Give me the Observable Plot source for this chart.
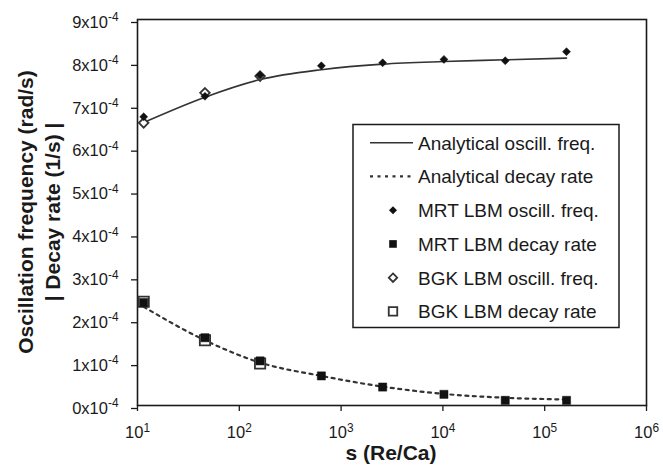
<!DOCTYPE html>
<html>
<head>
<meta charset="utf-8">
<script src="https://cdn.jsdelivr.net/npm/d3@7"></script>
<script src="https://cdn.jsdelivr.net/npm/@observablehq/plot@0.6"></script>
<style>
  html, body { margin: 0; padding: 0; background: #fff; }
  #chart { width: 663px; height: 467px; }
</style>
</head>
<body>
<div id="chart"></div>
<script>
// ---- data (values in units of 1e-4) ----
const sValues = [11.5, 46, 160, 640, 2560, 10240, 40960, 163840];
const analyticalFreq  = [6.60, 7.19, 7.60, 7.83, 7.96, 8.02, 8.06, 8.10];
const analyticalDecay = [2.30, 1.52, 1.00, 0.69, 0.44, 0.27, 0.18, 0.14];
const mrtFreq  = [6.73, 7.21, 7.70, 7.92, 7.99, 8.07, 8.04, 8.25];
const mrtDecay = [2.40, 1.58, 1.04, 0.69, 0.43, 0.26, 0.12, 0.12];
const bgkS     = [11.5, 46, 160];
const bgkFreq  = [6.59, 7.29, 7.68];
const bgkDecay = [2.42, 1.52, 0.98];

const xTicks = [1e1, 1e2, 1e3, 1e4, 1e5, 1e6];
const xTickExponents = ["1", "2", "3", "4", "5", "6"];
const yTicks = [0, 1, 2, 3, 4, 5, 6, 7, 8, 9];
const yTickLabels = ["0x10^-4", "1x10^-4", "2x10^-4", "3x10^-4", "4x10^-4", "5x10^-4", "6x10^-4", "7x10^-4", "8x10^-4", "9x10^-4"];

const legendLabels = [
  "Analytical oscill. freq.",
  "Analytical decay rate",
  "MRT LBM oscill. freq.",
  "MRT LBM decay rate",
  "BGK LBM oscill. freq.",
  "BGK LBM decay rate"
];
const xTitle = "s (Re/Ca)";
const yTitleLines = ["Oscillation frequency (rad/s)", "| Decay rate (1/s) |"];

// ---- tables ----
const analytic = sValues.map((s, i) => ({s, freq: analyticalFreq[i], decay: analyticalDecay[i]}));
const mrt = sValues.map((s, i) => ({s, freq: mrtFreq[i], decay: mrtDecay[i]}));
const bgk = bgkS.map((s, i) => ({s, freq: bgkFreq[i], decay: bgkDecay[i]}));

const FONT = "'Liberation Sans', Arial, Helvetica, sans-serif";
const INK = "#1a1a1a";
const LINE = "#333";

const chart = Plot.plot({
  width: 663,
  height: 467,
  marginLeft: 137,
  marginRight: 17,
  marginTop: 19,
  marginBottom: 62,
  style: {fontFamily: FONT, background: "#fff", color: INK, overflow: "visible"},
  x: {type: "log", domain: [10, 1e6]},
  y: {domain: [0, 9]},
  marks: [
    Plot.axisX({
      ticks: xTicks,
      tickFormat: (d) => "10^" + xTickExponents[xTicks.indexOf(d)],
      tickSize: 6, tickPadding: 15, fontSize: 16.5, label: null, stroke: INK, strokeWidth: 1.3
    }),
    Plot.axisY({
      ticks: yTicks,
      tickFormat: (d) => yTickLabels[yTicks.indexOf(d)],
      tickSize: 6, tickPadding: 13, fontSize: 16.5, label: null, dy: 3, stroke: INK, strokeWidth: 1.3
    }),
    Plot.frame({stroke: INK, strokeWidth: 1.6}),
    Plot.line(analytic, {x: "s", y: "freq", stroke: LINE, strokeWidth: 1.6, curve: "monotone-x"}),
    Plot.line(analytic, {x: "s", y: "decay", stroke: LINE, strokeWidth: 2.2, strokeDasharray: "3,4.5", curve: "monotone-x"}),
    Plot.dot(bgk, {x: "s", y: "freq", symbol: "diamond2", r: 4.3, fill: "#fff", stroke: LINE, strokeWidth: 1.8}),
    Plot.dot(bgk, {x: "s", y: "decay", symbol: "square", r: 5.8, fill: "#fff", stroke: LINE, strokeWidth: 1.8}),
    Plot.dot(mrt, {x: "s", y: "freq", symbol: "diamond2", r: 3.6, fill: "#111", stroke: "#111", strokeWidth: 0.5}),
    Plot.dot(mrt, {x: "s", y: "decay", symbol: "square", r: 4.6, fill: "#111", stroke: "#111", strokeWidth: 0.5})
  ]
});

document.getElementById("chart").appendChild(chart);
const svg = d3.select(chart);

// superscripts on tick labels
function supify(sel) {
  svg.selectAll(sel).each(function () {
    const t = this.textContent;
    const parts = t.split("^");
    if (parts.length < 2) return;
    this.textContent = "";
    const el = d3.select(this);
    el.append("tspan").text(parts[0]);
    el.append("tspan").attr("dy", "-0.55em").attr("font-size", "0.72em").text(parts[1]);
  });
}
supify('g[aria-label="x-axis tick label"] text');
supify('g[aria-label="y-axis tick label"] text');

// axis titles
svg.append("text")
  .attr("x", 391).attr("y", 460)
  .attr("text-anchor", "middle")
  .attr("font-family", FONT).attr("font-weight", "bold").attr("font-size", 21)
  .attr("fill", INK)
  .text(xTitle);

const yBase = [33, 60];
yTitleLines.forEach((line, i) => {
  svg.append("text")
    .attr("transform", `translate(${yBase[i]},212) rotate(-90)`)
    .attr("text-anchor", "middle")
    .attr("font-family", FONT).attr("font-weight", "bold").attr("font-size", 21)
    .attr("fill", INK)
    .text(line);
});

// legend
const lg = svg.append("g").attr("aria-label", "legend").attr("text-anchor", "start");
lg.append("rect")
  .attr("x", 353).attr("y", 124.5).attr("width", 266).attr("height", 203)
  .attr("fill", "#fff").attr("stroke", INK).attr("stroke-width", 1.5);
const rowY = (i) => 142.7 + i * 33.75;
const symX = 393;
legendLabels.forEach((label, i) => {
  const y = rowY(i);
  if (i === 0) {
    lg.append("line").attr("x1", 370).attr("x2", 413).attr("y1", y).attr("y2", y)
      .attr("stroke", LINE).attr("stroke-width", 1.6);
  } else if (i === 1) {
    lg.append("line").attr("x1", 370).attr("x2", 413).attr("y1", y).attr("y2", y)
      .attr("stroke", LINE).attr("stroke-width", 2.2).attr("stroke-dasharray", "3,4.5");
  } else if (i === 2) {
    lg.append("path").attr("transform", `translate(${symX},${y})`)
      .attr("d", d3.symbol(d3.symbolDiamond2, Math.PI * 3.6 * 3.6)()).attr("fill", "#111");
  } else if (i === 3) {
    lg.append("path").attr("transform", `translate(${symX},${y})`)
      .attr("d", d3.symbol(d3.symbolSquare, Math.PI * 4.3 * 4.3)()).attr("fill", "#111");
  } else if (i === 4) {
    lg.append("path").attr("transform", `translate(${symX},${y})`)
      .attr("d", d3.symbol(d3.symbolDiamond2, Math.PI * 3.8 * 3.8)()).attr("fill", "#fff")
      .attr("stroke", LINE).attr("stroke-width", 1.8);
  } else {
    lg.append("path").attr("transform", `translate(${symX},${y})`)
      .attr("d", d3.symbol(d3.symbolSquare, Math.PI * 4.8 * 4.8)()).attr("fill", "#fff")
      .attr("stroke", LINE).attr("stroke-width", 1.8);
  }
  lg.append("text")
    .attr("x", 418).attr("y", y).attr("dy", "0.36em")
    .attr("text-anchor", "start")
    .attr("font-family", FONT).attr("font-size", 19).attr("fill", INK)
    .text(label);
});
</script>
</body>
</html>
